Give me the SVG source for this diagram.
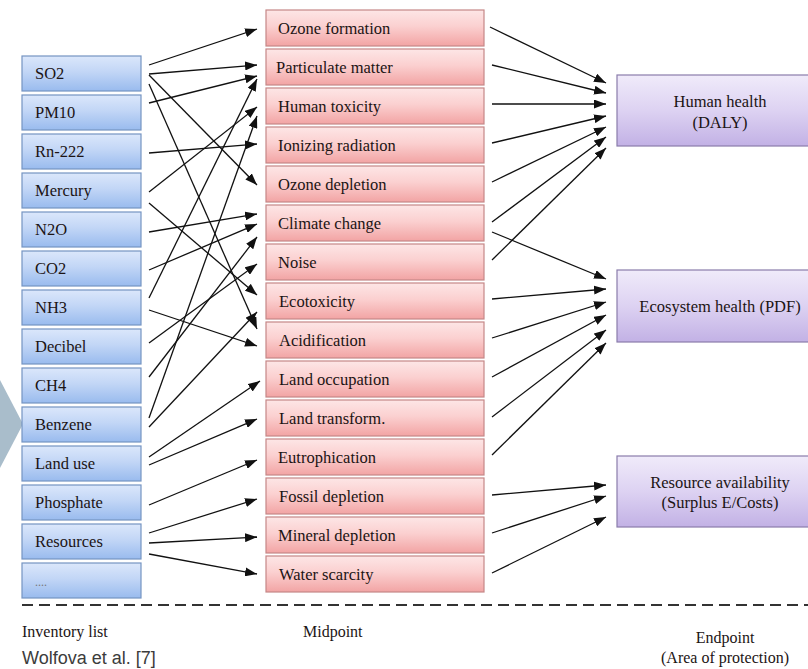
<svg xmlns="http://www.w3.org/2000/svg" width="808" height="669" viewBox="0 0 808 669">
<defs>
<linearGradient id="gBlue" x1="0" y1="0" x2="0" y2="1">
<stop offset="0" stop-color="#dbe7fb"/><stop offset="0.45" stop-color="#c2d6f6"/><stop offset="1" stop-color="#99bbee"/>
</linearGradient>
<linearGradient id="gPink" x1="0" y1="0" x2="0" y2="1">
<stop offset="0" stop-color="#fde6e6"/><stop offset="0.45" stop-color="#fbd0d0"/><stop offset="1" stop-color="#f2a4a4"/>
</linearGradient>
<linearGradient id="gPurple" x1="0" y1="0" x2="0" y2="1">
<stop offset="0" stop-color="#f0ebfa"/><stop offset="0.5" stop-color="#ddd2f2"/><stop offset="1" stop-color="#c2b1e5"/>
</linearGradient>
<marker id="ah" markerUnits="userSpaceOnUse" markerWidth="12" markerHeight="9" refX="12" refY="4.5" orient="auto">
<path d="M0,0 L12,4.5 L0,9 z" fill="#111"/>
</marker>
</defs>
<style>
.inv rect{fill:url(#gBlue);stroke:#7594c2;stroke-width:1.2}
.mid rect{fill:url(#gPink);stroke:#c58787;stroke-width:1.2}
.end rect{fill:url(#gPurple);stroke:#8a7cab;stroke-width:1.2}
text{font-family:"Liberation Serif","Times New Roman",serif;font-size:16.5px;fill:#1c1414}
.c{text-anchor:middle}
#connectors line{stroke:#111;stroke-width:1.3;marker-end:url(#ah)}
</style>
<rect width="808" height="669" fill="#ffffff"/>
<polygon points="0,380 23,424 0,468" fill="#a9bdcb"/>

<g id="inventory">
<g id="n-so2" class="inv"><rect x="22" y="56" width="119" height="35"/><text x="35" y="79">SO2</text></g>
<g id="n-pm10" class="inv"><rect x="22" y="95" width="119" height="35"/><text x="35" y="118">PM10</text></g>
<g id="n-rn222" class="inv"><rect x="22" y="134" width="119" height="35"/><text x="35" y="157">Rn-222</text></g>
<g id="n-mercury" class="inv"><rect x="22" y="173" width="119" height="35"/><text x="35" y="196">Mercury</text></g>
<g id="n-n2o" class="inv"><rect x="22" y="212" width="119" height="35"/><text x="35" y="235">N2O</text></g>
<g id="n-co2" class="inv"><rect x="22" y="251" width="119" height="35"/><text x="35" y="274">CO2</text></g>
<g id="n-nh3" class="inv"><rect x="22" y="290" width="119" height="35"/><text x="35" y="313">NH3</text></g>
<g id="n-decibel" class="inv"><rect x="22" y="329" width="119" height="35"/><text x="35" y="352">Decibel</text></g>
<g id="n-ch4" class="inv"><rect x="22" y="368" width="119" height="35"/><text x="35" y="391">CH4</text></g>
<g id="n-benzene" class="inv"><rect x="22" y="407" width="119" height="35"/><text x="35" y="430">Benzene</text></g>
<g id="n-landuse" class="inv"><rect x="22" y="446" width="119" height="35"/><text x="35" y="469">Land use</text></g>
<g id="n-phosphate" class="inv"><rect x="22" y="485" width="119" height="35"/><text x="35" y="508">Phosphate</text></g>
<g id="n-resources" class="inv"><rect x="22" y="524" width="119" height="35"/><text x="35" y="547">Resources</text></g>
<g id="n-more" class="inv"><rect x="22" y="563" width="119" height="35"/><text x="35" y="586" style="font-size:12px;fill:#777">....</text></g>
</g>

<g id="midpoint">
<g id="m-ozoneform" class="mid"><rect x="266" y="10" width="218" height="36"/><text x="278" y="34">Ozone formation</text></g>
<g id="m-pm" class="mid"><rect x="266" y="49" width="218" height="36"/><text x="276" y="73">Particulate matter</text></g>
<g id="m-humtox" class="mid"><rect x="266" y="88" width="218" height="36"/><text x="278" y="112">Human toxicity</text></g>
<g id="m-ionizing" class="mid"><rect x="266" y="127" width="218" height="36"/><text x="278" y="151">Ionizing radiation</text></g>
<g id="m-ozonedep" class="mid"><rect x="266" y="166" width="218" height="36"/><text x="278" y="190">Ozone depletion</text></g>
<g id="m-climate" class="mid"><rect x="266" y="205" width="218" height="36"/><text x="278" y="229">Climate change</text></g>
<g id="m-noise" class="mid"><rect x="266" y="244" width="218" height="36"/><text x="278" y="268">Noise</text></g>
<g id="m-ecotox" class="mid"><rect x="266" y="283" width="218" height="36"/><text x="279" y="307">Ecotoxicity</text></g>
<g id="m-acid" class="mid"><rect x="266" y="322" width="218" height="36"/><text x="279" y="346">Acidification</text></g>
<g id="m-landocc" class="mid"><rect x="266" y="361" width="218" height="36"/><text x="279" y="385">Land occupation</text></g>
<g id="m-landtr" class="mid"><rect x="266" y="400" width="218" height="36"/><text x="279" y="424">Land transform.</text></g>
<g id="m-eutro" class="mid"><rect x="266" y="439" width="218" height="36"/><text x="278" y="463">Eutrophication</text></g>
<g id="m-fossil" class="mid"><rect x="266" y="478" width="218" height="36"/><text x="279" y="502">Fossil depletion</text></g>
<g id="m-mineral" class="mid"><rect x="266" y="517" width="218" height="36"/><text x="278" y="541">Mineral depletion</text></g>
<g id="m-water" class="mid"><rect x="266" y="556" width="218" height="36"/><text x="279" y="580">Water scarcity</text></g>
</g>

<g id="endpoint">
<g id="e-human" class="end"><rect x="617" y="75" width="206" height="71"/><text class="c" x="720" y="107">Human health</text><text class="c" x="720" y="128">(DALY)</text></g>
<g id="e-eco" class="end"><rect x="617" y="270" width="206" height="72"/><text class="c" x="720" y="312">Ecosystem health (PDF)</text></g>
<g id="e-res" class="end"><rect x="617" y="456" width="206" height="71"/><text class="c" x="720" y="488">Resource availability</text><text class="c" x="720" y="508">(Surplus E/Costs)</text></g>
</g>

<g id="connectors">
<line x1="149" y1="65" x2="257" y2="29"/>
<line x1="149" y1="74" x2="257" y2="65"/>
<line x1="149" y1="103" x2="257" y2="76"/>
<line x1="149" y1="298" x2="257" y2="79"/>
<line x1="149" y1="192" x2="257" y2="107"/>
<line x1="149" y1="418" x2="257" y2="116"/>
<line x1="149" y1="153" x2="257" y2="144"/>
<line x1="149" y1="75" x2="257" y2="185"/>
<line x1="149" y1="232" x2="257" y2="214"/>
<line x1="149" y1="270" x2="257" y2="224"/>
<line x1="149" y1="377" x2="257" y2="237"/>
<line x1="149" y1="343" x2="257" y2="264"/>
<line x1="149" y1="203" x2="257" y2="295"/>
<line x1="149" y1="427" x2="257" y2="312"/>
<line x1="149" y1="84" x2="257" y2="329"/>
<line x1="149" y1="310" x2="257" y2="346"/>
<line x1="149" y1="457" x2="260" y2="381"/>
<line x1="149" y1="465" x2="257" y2="419"/>
<line x1="149" y1="505" x2="257" y2="460"/>
<line x1="149" y1="533" x2="257" y2="499"/>
<line x1="149" y1="543" x2="257" y2="537"/>
<line x1="149" y1="554" x2="257" y2="574"/>

<line x1="490" y1="27" x2="606" y2="83"/>
<line x1="492" y1="65" x2="606" y2="93"/>
<line x1="492" y1="104" x2="606" y2="104"/>
<line x1="492" y1="143" x2="606" y2="116"/>
<line x1="492" y1="182" x2="606" y2="127"/>
<line x1="492" y1="222" x2="606" y2="137"/>
<line x1="492" y1="260" x2="606" y2="148"/>
<line x1="492" y1="232" x2="606" y2="279"/>
<line x1="492" y1="299" x2="606" y2="289"/>
<line x1="492" y1="338" x2="606" y2="302"/>
<line x1="492" y1="377" x2="606" y2="315"/>
<line x1="492" y1="417" x2="606" y2="330"/>
<line x1="492" y1="455" x2="606" y2="343"/>
<line x1="492" y1="495" x2="606" y2="485"/>
<line x1="492" y1="533" x2="606" y2="496"/>
<line x1="492" y1="573" x2="606" y2="517"/>
</g>

<line x1="22" y1="605" x2="808" y2="605" stroke="#333" stroke-width="2" stroke-dasharray="11 6"/>
<text x="22" y="637" style="font-size:16px">Inventory list</text>
<text x="303" y="637" style="font-size:16px">Midpoint</text>
<text class="c" x="725" y="643" style="font-size:16px">Endpoint</text>
<text class="c" x="725" y="663" style="font-size:16px">(Area of protection)</text>
<text x="22" y="664" style="font-family:'Liberation Sans',Arial,sans-serif;font-size:18px;fill:#3c3c3c">Wolfova et al. [7]</text>
</svg>
